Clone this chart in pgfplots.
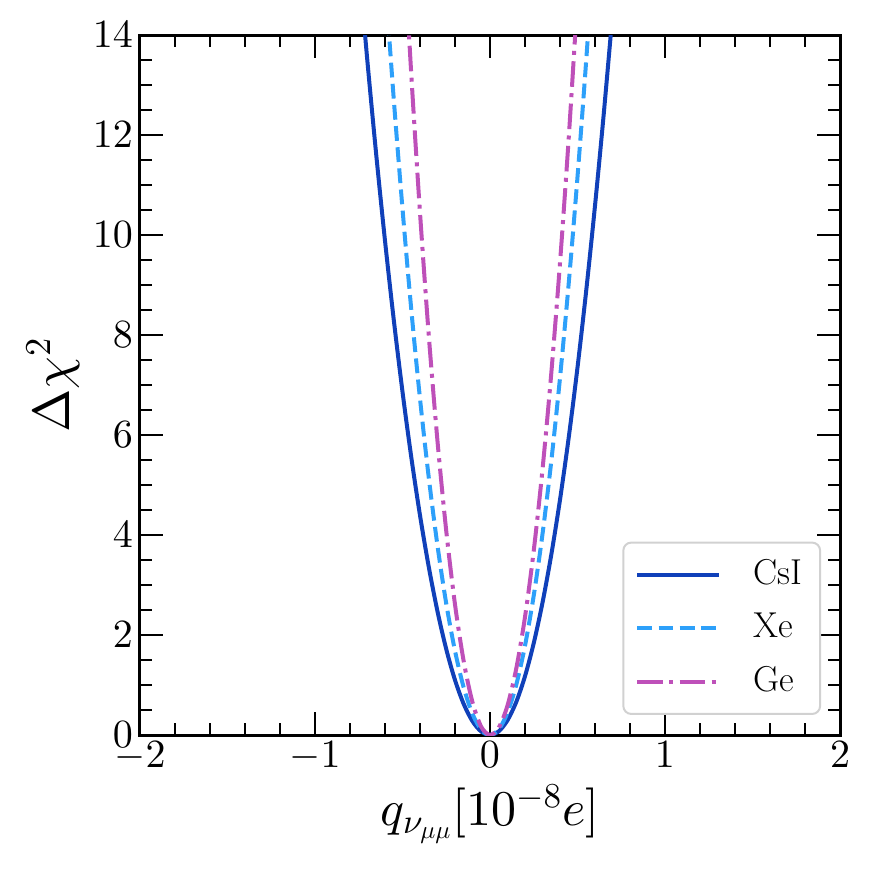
\RequirePackage{fix-cm}
\documentclass[border=0pt]{standalone}
\DeclareFontShape{OT1}{cmr}{m}{n}{<->cmr10}{}
\DeclareFontShape{OML}{cmm}{m}{it}{<->cmmi10}{}
\DeclareFontShape{OMS}{cmsy}{m}{n}{<->cmsy10}{}
\usepackage{pgfplots}
\pgfplotsset{compat=1.18}
\definecolor{csi}{RGB}{16,64,185}
\definecolor{xe}{RGB}{45,160,250}
\definecolor{ge}{RGB}{190,80,185}
\begin{document}
\begin{tikzpicture}
\path[use as bounding box] (-70pt,-72.5pt) rectangle (365pt,367.5pt);
\begin{axis}[
  at={(0,0)}, anchor=south west,
  scale only axis, width=350pt, height=350pt,
  xmin=-2, xmax=2, ymin=0, ymax=14,
  xtick={-2,-1,0,1,2}, ytick={0,2,4,6,8,10,12,14},
  minor x tick num=4, minor y tick num=3,
  tick align=inside, xtick pos=both, ytick pos=both,
  major tick length=11.5pt, minor tick length=6pt,
  every tick/.style={black, line width=1.2pt},
  axis line style={line width=1.5pt},
  tick label style={font=\fontsize{20}{24}\selectfont},
  xlabel={$q_{\nu_{\mu\mu}}[10^{-8}e]$},
  ylabel={$\Delta\chi^2$},
  xlabel style={font=\fontsize{25}{30}\selectfont},
  ylabel style={font=\fontsize{26}{31}\selectfont},
  legend image code/.code={\draw[#1] (0pt,0pt) -- (41pt,0pt);},
  legend cell align=left,
  legend style={at={(rel axis cs:0.973,0.0286)}, anchor=south east,
    draw=black!18, line width=1pt, rounded corners=4pt, fill=white,
    font=\fontsize{18}{22}\selectfont,
    inner xsep=6pt, inner ysep=5.4pt, row sep=5.2pt,
    nodes={inner sep=3pt, text height=12.5pt, text depth=3pt},
    /tikz/every odd column/.append style={column sep=13pt}},
]
\addplot[csi, line width=2pt, smooth] coordinates {
(-0.75,15.4463) (-0.70,13.4554) (-0.65,11.6019) (-0.60,9.8856) (-0.55,8.3067)
(-0.50,6.865) (-0.45,5.5607) (-0.40,4.3936) (-0.35,3.3639) (-0.30,2.4714)
(-0.25,1.7163) (-0.20,1.0984) (-0.15,0.6179) (-0.10,0.2746) (-0.05,0.0687)
(0,0)
(0.05,0.0735) (0.10,0.294) (0.15,0.6615) (0.20,1.176) (0.25,1.8375)
(0.30,2.646) (0.35,3.6015) (0.40,4.704) (0.45,5.9535) (0.50,7.35)
(0.55,8.8935) (0.60,10.584) (0.65,12.4215) (0.70,14.406)
};
\addlegendentry{CsI}
\addplot[xe, line width=2pt, smooth, dash pattern=on 7.4pt off 3.2pt] coordinates {
(-0.60,15.138) (-0.55,12.7201) (-0.50,10.525) (-0.45,8.5151) (-0.40,6.728)
(-0.35,5.1511) (-0.30,3.7845) (-0.25,2.6281) (-0.20,1.682) (-0.15,0.9461)
(-0.10,0.4205) (-0.05,0.1051)
(0,0)
(0.05,0.1116) (0.10,0.4464) (0.15,1.0044) (0.20,1.7856) (0.25,2.79)
(0.30,4.0176) (0.35,5.4684) (0.40,7.1424) (0.45,9.0396) (0.50,11.16)
(0.55,13.5036) (0.60,16.0704)
};
\addlegendentry{Xe}
\addplot[ge, line width=2pt, smooth, dash pattern=on 12.8pt off 3.2pt on 2pt off 3.2pt] coordinates {
(-0.50,16.325) (-0.45,13.2233) (-0.40,10.448) (-0.35,7.9993) (-0.30,5.877)
(-0.25,4.0813) (-0.20,2.612) (-0.15,1.4693) (-0.10,0.653) (-0.05,0.1633)
(0,0)
(0.05,0.1475) (0.10,0.59) (0.15,1.3275) (0.20,2.36) (0.25,3.6875)
(0.30,5.31) (0.35,7.2275) (0.40,9.44) (0.45,11.9475) (0.50,14.75)
};
\addlegendentry{Ge}
\end{axis}
\end{tikzpicture}
\end{document}
